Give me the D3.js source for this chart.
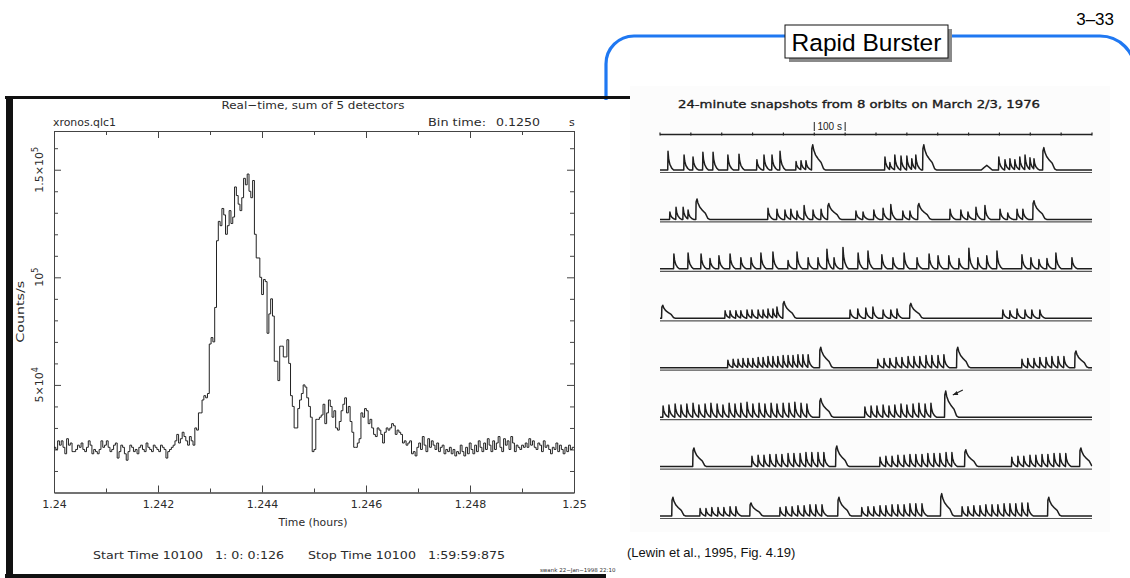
<!DOCTYPE html>
<html><head><meta charset="utf-8">
<script src="https://cdn.jsdelivr.net/npm/d3@7"></script>
<style>body{margin:0;background:#fff}svg{display:block}</style>
</head><body>
<svg id="slide" width="1130" height="578"></svg>
<script>
// ---------- light curve: 0.125 s bins, counts/s in thousands ----------
const curveStartHours = 1.24;
const curveEndHours = 1.25;
const countsK = [
  21,20,24,22,24,21,18,25,22,23,
  19,19,20,22,21,23,20,19,21,24,
  22,18,20,19,18,20,24,21,22,24,
  21,19,20,22,23,16,19,22,21,18,
  15,19,22,21,19,20,18,21,22,20,
  19,23,21,20,19,22,21,20,19,22,
  21,20,16,19,20,21,22,24,27,23,
  25,28,26,24,22,26,24,22,30,29,
  37,37,43,45,44,46,69,72,70,86,
  117,126,124,132,129,120,124,131,125,128,
  142,138,134,131,137,146,143,148,140,137,
  145,120,109,109,100,92,99,98,74,83,
  90,82,61,61,52,68,68,63,63,71,
  60,45,40,30,30,39,43,46,50,49,
  44,40,35,19,20,34,34,35,36,41,
  32,37,43,40,35,38,30,29,33,38,
  41,44,37,40,33,28,21,21,23,25,
  37,35,39,38,32,34,30,27,26,30,
  29,27,23,28,30,29,30,32,31,27,
  29,28,27,23,24,22,23,24,18,19,
  17,21,23,20,26,22,19,25,21,24,
  22,20,23,19,21,22,18,20,19,21,
  18,20,17,19,18,22,19,17,21,18,
  23,20,18,22,19,24,21,19,23,20,
  25,22,19,24,20,23,26,21,19,25,
  22,24,20,26,23,19,22,21,20,22,
  21,23,21,25,22,24,21,20,23,22,
  19,24,21,22,20,18,21,20,23,19,
  22,20,18,21,19,22,20,21
];
const xMajorTicks = [1.24, 1.242, 1.244, 1.246, 1.248, 1.25];
const xMinorTicks = [1.241, 1.243, 1.245, 1.247, 1.249];
const yMajorTicks = [50000, 100000, 150000];
const yTickMantissa = ["5×10", "10", "1.5×10"];
const yTickExponent = ["4", "5", "5"];
const yMax = 168000;

// ---------- 24-minute snapshots: bursts [time s, relative height, kind] ----------
const snapshotSeconds = 1400;
const orbit1 = [[26,20],[78,16],[107,14],[139,19],[172,19],[220,16],[256,17],[314,11],[337,16],[363,16],[389,20],[441,9],[457,10],[473,10],[492,27,"L"],[729,14],[745,8],[761,16],[781,15],[800,15],[816,12],[829,16],[852,27,"L"],[1059,5,"B"],[1098,14],[1118,11],[1134,12],[1150,11],[1166,14],[1183,16],[1199,13],[1212,12],[1241,24,"L"]];
const orbit2 = [[32,8],[52,13],[75,13],[91,10],[117,22,"L"],[350,12],[379,11],[405,10],[424,11],[444,9],[467,15],[496,10],[522,11],[544,17,"L"],[635,9],[658,8],[693,10],[723,12],[748,16],[787,9],[810,9],[836,17,"L"],[940,11],[975,10],[998,8],[1024,13],[1053,15],[1102,11],[1127,7],[1157,11],[1176,11],[1209,20,"L"]];
const orbit3 = [[45,16],[91,17],[133,16],[162,11],[191,14],[227,16],[262,12],[295,12],[327,17],[366,18],[415,9],[444,18],[480,12],[512,12],[541,21],[564,12],[593,23],[642,17],[674,19],[719,15],[755,12],[791,17],[833,12],[872,16],[901,14],[936,14],[969,11],[1001,22],[1030,12],[1059,14],[1092,19],[1173,15],[1202,12],[1228,10],[1254,11],[1283,17],[1335,12]];
const orbit4 = [[6,14,"L"],[211,8],[227,8],[246,8],[262,8],[282,9],[298,9],[318,9],[334,9],[350,10],[366,10],[379,12],[399,18,"L"],[616,9],[641,10],[667,11],[690,12],[723,9],[748,9],[768,10],[810,16,"L"],[1111,9],[1134,8],[1157,10],[1183,9],[1205,9],[1231,9]];
const orbit5 = [[220,8],[237,9],[253,9],[269,10],[285,10],[301,10],[318,11],[334,11],[350,12],[366,12],[382,12],[399,13],[415,13],[431,13],[447,14],[463,14],[480,14],[518,22,"L"],[706,9],[726,10],[745,10],[765,11],[784,11],[804,12],[823,12],[842,12],[862,13],[881,13],[901,13],[920,14],[962,22,"L"],[1173,9],[1192,10],[1212,10],[1231,11],[1251,11],[1270,12],[1290,12],[1309,12],[1345,18,"L"]];
const orbit6 = [[10,12],[29,13],[49,14],[68,13],[87,14],[107,15],[126,13],[146,14],[165,15],[185,14],[204,13],[224,15],[243,14],[262,15],[282,16],[301,14],[321,15],[340,14],[360,15],[379,14],[399,15],[418,15],[437,16],[457,15],[476,14],[518,20,"L"],[664,11],[684,12],[703,12],[723,13],[742,12],[761,13],[781,14],[800,13],[820,14],[839,15],[859,14],[878,15],[923,28,"L"]];
const orbit7 = [[107,20,"L"],[298,11],[318,12],[337,12],[356,13],[376,13],[395,13],[415,14],[434,14],[454,14],[473,15],[492,15],[512,15],[531,15],[570,22,"L"],[713,10],[732,11],[752,11],[771,12],[791,12],[810,13],[829,13],[849,13],[868,14],[888,14],[907,14],[927,15],[946,15],[988,18,"L"],[1140,10],[1160,11],[1179,11],[1199,12],[1218,12],[1238,13],[1257,13],[1277,14],[1296,14],[1315,14],[1361,20,"L"]];
const orbit8 = [[39,20,"L"],[130,8],[149,8],[168,9],[188,9],[207,9],[227,10],[246,10],[292,14,"L"],[389,9],[408,10],[428,10],[447,11],[467,11],[486,12],[505,12],[525,12],[577,20,"L"],[654,9],[674,10],[693,10],[713,11],[732,11],[752,12],[771,12],[791,12],[810,13],[829,13],[849,13],[910,24,"L"],[979,10],[998,10],[1017,11],[1037,11],[1056,12],[1076,12],[1095,12],[1115,13],[1134,13],[1153,13],[1173,14],[1192,14],[1257,20,"L"]];
const orbits = [orbit1, orbit2, orbit3, orbit4, orbit5, orbit6, orbit7, orbit8];

const svg = d3.select("#slide");
const ink = "#2b2b2b";
const plotFont = "'DejaVu Sans', sans-serif";

// ---------- slide decoration ----------
const blue = "#1f78f2";
svg.append("path")
  .attr("d", "M606,100 V64 A28,28 0 0 1 634,36 H785 M952,36 H1100 A35,35 0 0 1 1135,71 V200")
  .attr("fill", "none").attr("stroke", blue).attr("stroke-width", 3.2);
svg.append("rect").attr("x", 789).attr("y", 29).attr("width", 163).attr("height", 33).attr("fill", "#8a8a8a");
svg.append("rect").attr("x", 785).attr("y", 25).attr("width", 163).attr("height", 33)
  .attr("fill", "#fff").attr("stroke", "#111").attr("stroke-width", 1);
svg.append("text").attr("x", 866.5).attr("y", 51).attr("text-anchor", "middle")
  .attr("font-family", "'Liberation Sans', Arial, sans-serif").attr("font-size", 24.5).attr("fill", "#000")
  .text("Rapid Burster");
svg.append("text").attr("x", 1114).attr("y", 25).attr("text-anchor", "end")
  .attr("font-family", "'Liberation Sans', Arial, sans-serif").attr("font-size", 17).attr("fill", "#000")
  .text("3–33");
svg.append("text").attr("x", 627).attr("y", 557)
  .attr("font-family", "'Liberation Sans', Arial, sans-serif").attr("font-size", 13).attr("fill", "#111")
  .text("(Lewin et al., 1995, Fig. 4.19)");

// ---------- light-curve panel ----------
const lc = svg.append("g");
lc.append("rect").attr("x", 5).attr("y", 96).attr("width", 625).attr("height", 3).attr("fill", "#111");
lc.append("rect").attr("x", 6).attr("y", 96).attr("width", 7).attr("height", 482).attr("fill", "#111");
lc.append("rect").attr("x", 5).attr("y", 574).attr("width", 601).attr("height", 4).attr("fill", "#111");

const plotL = 54, plotR = 574, plotT = 131, plotB = 492.5;
const x = d3.scaleLinear().domain([curveStartHours, curveEndHours]).range([plotL, plotR]);
const y = d3.scaleLinear().domain([0, yMax]).range([plotB, plotT]);

const txt = (g, xx, yy, s, size, anchor, width) => {
  const t = g.append("text").attr("x", xx).attr("y", yy)
    .attr("font-family", plotFont).attr("font-size", size).attr("fill", ink)
    .attr("text-anchor", anchor || "start").text(s);
  if (width) t.attr("textLength", width).attr("lengthAdjust", "spacingAndGlyphs");
  return t;
};

txt(lc, 313, 109, "Real−time, sum of 5 detectors", 11, "middle", 183);
txt(lc, 53, 126, "xronos.qlc1", 11, "start", 63);
txt(lc, 428, 126, "Bin time:", 11, "start", 58);
txt(lc, 496, 126, "0.1250", 11, "start", 44);
txt(lc, 569, 126, "s", 11);
txt(lc, 313, 526, "Time (hours)", 11, "middle", 69);
txt(lc, 299, 559, "Start Time 10100   1: 0: 0:126      Stop Time 10100   1:59:59:875", 11, "middle", 412)
  .style("white-space", "pre");
lc.append("text").attr("x", 540).attr("y", 572).attr("font-family", plotFont).attr("font-size", 5.5)
  .attr("fill", ink).text("swank 22−Jan−1998 22:10");

// axes with inward ticks on all four sides
const styleAxis = g => {
  g.selectAll("path.domain").attr("stroke", "#444");
  g.selectAll(".tick line").attr("stroke", "#444");
  g.selectAll("text").attr("font-family", plotFont).attr("font-size", 11).attr("fill", ink);
};
const fmtX = d => String(+d.toFixed(3));
lc.append("g").attr("transform", `translate(0,${plotB})`)
  .call(d3.axisBottom(x).tickValues(xMajorTicks).tickSize(-7).tickSizeOuter(0).tickPadding(8).tickFormat(fmtX))
  .call(styleAxis);
lc.append("g").attr("transform", `translate(0,${plotB})`)
  .call(d3.axisBottom(x).tickValues(xMinorTicks).tickSize(-4).tickSizeOuter(0).tickFormat(""))
  .call(styleAxis);
lc.append("g").attr("transform", `translate(0,${plotT})`)
  .call(d3.axisTop(x).tickValues(xMajorTicks).tickSize(-7).tickSizeOuter(0).tickFormat(""))
  .call(styleAxis);
lc.append("g").attr("transform", `translate(0,${plotT})`)
  .call(d3.axisTop(x).tickValues(xMinorTicks).tickSize(-4).tickSizeOuter(0).tickFormat(""))
  .call(styleAxis);
const yMinor = d3.range(10000, yMax, 10000).filter(v => v % 50000 !== 0);
[[d3.axisLeft, plotL], [d3.axisRight, plotR]].forEach(([ax, pos]) => {
  lc.append("g").attr("transform", `translate(${pos},0)`)
    .call(ax(y).tickValues(yMajorTicks).tickSize(-7).tickSizeOuter(0).tickFormat(""))
    .call(styleAxis);
  lc.append("g").attr("transform", `translate(${pos},0)`)
    .call(ax(y).tickValues(yMinor).tickSize(-4).tickSizeOuter(0).tickFormat(""))
    .call(styleAxis);
});

// rotated y tick labels with exponents
yMajorTicks.forEach((v, i) => {
  const t = lc.append("text")
    .attr("transform", `translate(43,${y(v)}) rotate(-90)`)
    .attr("text-anchor", "middle").attr("font-family", plotFont).attr("font-size", 11).attr("fill", ink);
  t.append("tspan").text(yTickMantissa[i]);
  t.append("tspan").attr("dy", -5).attr("font-size", 8).text(yTickExponent[i]);
});
lc.append("text").attr("transform", `translate(23.5,${(plotT + plotB) / 2}) rotate(-90)`)
  .attr("text-anchor", "middle").attr("font-family", plotFont).attr("font-size", 10.5).attr("fill", ink)
  .attr("textLength", 62).attr("lengthAdjust", "spacingAndGlyphs")
  .text("Counts/s");

// step light curve
const binH = (curveEndHours - curveStartHours) / countsK.length;
const pts = countsK.map((c, i) => [curveStartHours + i * binH, c * 1000]);
pts.push([curveEndHours, countsK[countsK.length - 1] * 1000]);
lc.append("path").datum(pts)
  .attr("d", d3.line().x(d => x(d[0])).y(d => y(d[1])).curve(d3.curveStepAfter))
  .attr("fill", "none").attr("stroke", "#222").attr("stroke-width", 1);

// ---------- snapshot panel ----------
const sp = svg.append("g");
sp.append("rect").attr("x", 606).attr("y", 100).attr("width", 520).attr("height", 440).attr("fill", "#fff");
sp.append("rect").attr("x", 630).attr("y", 86).attr("width", 480).attr("height", 446).attr("fill", "#fcfcfc");
const sx = d3.scaleLinear().domain([0, snapshotSeconds]).range([660, 1092]);
const rowBase = d3.scalePoint().domain(d3.range(8)).range([171, 517]);
const amp = d3.scaleLinear().domain([0, 30]).range([0, 28]);

sp.append("text").attr("x", 859).attr("y", 108).attr("text-anchor", "middle")
  .attr("font-family", "'DejaVu Sans', sans-serif").attr("font-size", 11)
  .attr("fill", "#1a1a1a").attr("stroke", "#1a1a1a").attr("stroke-width", 0.35)
  .attr("textLength", 362).attr("lengthAdjust", "spacingAndGlyphs")
  .text("24-minute snapshots from 8 orbits on March 2/3, 1976");
// 100 s scale marker and ruler
sp.append("line").attr("x1", sx(0)).attr("x2", sx(snapshotSeconds)).attr("y1", 134.5).attr("y2", 134.5)
  .attr("stroke", "#222").attr("stroke-width", 1.3);
d3.range(0, snapshotSeconds + 1, 100).forEach(t => {
  sp.append("line").attr("x1", sx(t)).attr("x2", sx(t)).attr("y1", 132.5).attr("y2", 135.5)
    .attr("stroke", "#222").attr("stroke-width", 1.2);
});
[500, 600].forEach(t => sp.append("line").attr("x1", sx(t)).attr("x2", sx(t)).attr("y1", 122).attr("y2", 131)
  .attr("stroke", "#222").attr("stroke-width", 1));
sp.append("text").attr("x", (sx(500) + sx(600)) / 2).attr("y", 130).attr("text-anchor", "middle")
  .attr("font-family", "'Liberation Sans', Arial, sans-serif").attr("font-size", 10).attr("fill", "#222")
  .text("100 s");

// burst profiles
const shapes = {
  S: [[-1, 0], [0, 1], [2, 0.6], [6, 0.3], [12, 0.1], [18, 0]],
  L: [[-1, 0], [0, 0.85], [3, 1], [6, 0.8], [12, 0.6], [20, 0.45], [30, 0.3], [38, 0.05], [44, 0]],
  B: [[-18, 0], [0, 1], [18, 0]]
};
const shapeAt = (shape, dt) => {
  if (dt <= shape[0][0] || dt >= shape[shape.length - 1][0]) return 0;
  for (let k = 1; k < shape.length; k++) {
    if (dt <= shape[k][0]) {
      const [t0, v0] = shape[k - 1], [t1, v1] = shape[k];
      return v0 + (v1 - v0) * (dt - t0) / (t1 - t0);
    }
  }
  return 0;
};
const grid = d3.range(0, snapshotSeconds + 0.5, 0.5);
orbits.forEach((bursts, r) => {
  const base = rowBase(r);
  const profile = grid.map(t => {
    let v = 0;
    bursts.forEach(b => { v = Math.max(v, b[1] * shapeAt(shapes[b[2] || "S"], t - b[0])); });
    return [t, v];
  });
  sp.append("path").datum(profile)
    .attr("d", d3.line().x(d => sx(d[0])).y(d => base - 1 - amp(d[1])))
    .attr("fill", "none").attr("stroke", "#1e1e1e").attr("stroke-width", 1.5).attr("stroke-linejoin", "round");
  sp.append("line").attr("x1", sx(0)).attr("x2", sx(snapshotSeconds)).attr("y1", base + 1.5).attr("y2", base + 1.5)
    .attr("stroke", "#555").attr("stroke-width", 1.2);
});
// arrow pointing at the marked burst in orbit 6
const mark = orbit6[orbit6.length - 1];
const ax0 = sx(mark[0]) + 18, ay0 = rowBase(5) - amp(mark[1]) - 2;
sp.append("path").attr("d", `M${ax0},${ay0} L${ax0 - 10},${ay0 + 5}`).attr("stroke", "#222").attr("stroke-width", 1.2);
sp.append("path").attr("d", `M${ax0 - 10},${ay0 + 5} l4,-4 l1.5,4 z`).attr("fill", "#222");
</script>
</body></html>
